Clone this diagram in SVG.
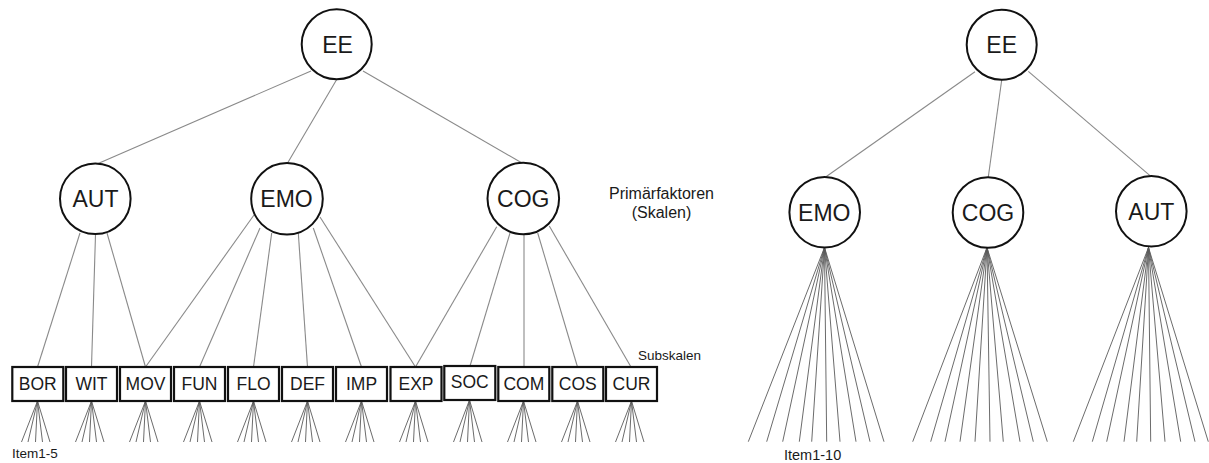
<svg xmlns="http://www.w3.org/2000/svg" width="1209" height="463" viewBox="0 0 1209 463">
<style>
.c{fill:#fff;stroke:#111;stroke-width:2}
.b{fill:#fff;stroke:#111;stroke-width:2.2}
.e{stroke:#8a8a8a;stroke-width:1.1;fill:none}
.f{stroke:#5a5a5a;stroke-width:0.9;fill:none}
.ct{font-family:"Liberation Sans",Arial,sans-serif;font-size:23px;fill:#1a1a1a;text-anchor:middle}
.bt{font-family:"Liberation Sans",Arial,sans-serif;font-size:17.5px;fill:#1a1a1a;text-anchor:middle}
.lt{font-family:"Liberation Sans",Arial,sans-serif;fill:#1a1a1a}
</style>
<rect width="1209" height="463" fill="#fff"/>
<g id="connectors">
<line class="e" x1="311" y1="71" x2="97" y2="164"/>
<line class="e" x1="337" y1="79" x2="287" y2="164"/>
<line class="e" x1="363" y1="71" x2="522" y2="163"/>
<line class="e" x1="80" y1="233" x2="37.5" y2="367"/>
<line class="e" x1="95.5" y1="234.5" x2="91.5" y2="367"/>
<line class="e" x1="107" y1="233" x2="145.5" y2="367"/>
<line class="e" x1="254" y1="215" x2="145.5" y2="367"/>
<line class="e" x1="260" y1="228" x2="199.5" y2="367"/>
<line class="e" x1="271.7" y1="233" x2="253.5" y2="367"/>
<line class="e" x1="298.3" y1="233" x2="307.5" y2="367"/>
<line class="e" x1="313.3" y1="228" x2="361.5" y2="367"/>
<line class="e" x1="320" y1="217" x2="415.5" y2="367"/>
<line class="e" x1="496.7" y1="226.7" x2="415.5" y2="367"/>
<line class="e" x1="510" y1="233" x2="470" y2="366"/>
<line class="e" x1="524" y1="234.5" x2="524" y2="367"/>
<line class="e" x1="537.7" y1="233" x2="577.5" y2="367"/>
<line class="e" x1="549.3" y1="226" x2="631" y2="367"/>
<g class="f">
<path d="M37.5 401L21.5 442M37.5 401L28 442M37.5 401L35.5 442M37.5 401L42.5 442M37.5 401L50 442"/>
<path d="M91.5 401L75.5 442M91.5 401L82 442M91.5 401L89.5 442M91.5 401L96.5 442M91.5 401L104 442"/>
<path d="M145.5 401L129.5 442M145.5 401L136 442M145.5 401L143.5 442M145.5 401L150.5 442M145.5 401L158 442"/>
<path d="M199.5 401L183.5 442M199.5 401L190 442M199.5 401L197.5 442M199.5 401L204.5 442M199.5 401L212 442"/>
<path d="M253.5 401L237.5 442M253.5 401L244 442M253.5 401L251.5 442M253.5 401L258.5 442M253.5 401L266 442"/>
<path d="M307.5 401L291.5 442M307.5 401L298 442M307.5 401L305.5 442M307.5 401L312.5 442M307.5 401L320 442"/>
<path d="M361.5 401L345.5 442M361.5 401L352 442M361.5 401L359.5 442M361.5 401L366.5 442M361.5 401L374 442"/>
<path d="M415.5 401L399.5 442M415.5 401L406 442M415.5 401L413.5 442M415.5 401L420.5 442M415.5 401L428 442"/>
<path d="M469.5 400L453.5 442M469.5 400L460 442M469.5 400L467.5 442M469.5 400L474.5 442M469.5 400L482 442"/>
<path d="M523.5 401L507.5 442M523.5 401L514 442M523.5 401L521.5 442M523.5 401L528.5 442M523.5 401L536 442"/>
<path d="M577.5 401L561.5 442M577.5 401L568 442M577.5 401L575.5 442M577.5 401L582.5 442M577.5 401L590 442"/>
<path d="M631.5 401L615.5 442M631.5 401L622 442M631.5 401L629.5 442M631.5 401L636.5 442M631.5 401L644 442"/>
</g>
<line class="e" x1="975" y1="71.7" x2="826" y2="176.7"/>
<line class="e" x1="1001.7" y1="80" x2="988.3" y2="177"/>
<line class="e" x1="1028.3" y1="71.3" x2="1150" y2="175.7"/>
<g class="f">
<path d="M824.5 247.5L748.3 441.7M824.5 247.5L766.7 441.7M824.5 247.5L782.7 441.7M824.5 247.5L799.3 441.7M824.5 247.5L811.7 441.7M824.5 247.5L826.7 441.7M824.5 247.5L840 441.7M824.5 247.5L856 441.7M824.5 247.5L870 441.7M824.5 247.5L884 441.7"/>
<path d="M987 247.5L912.7 441.7M987 247.5L930.7 441.7M987 247.5L945 441.7M987 247.5L960 441.7M987 247.5L975 441.7M987 247.5L990 441.7M987 247.5L1003.3 441.7M987 247.5L1020 441.7M987 247.5L1033.3 441.7M987 247.5L1047.3 441.7"/>
<path d="M1148.5 247.5L1073.3 441.7M1148.5 247.5L1092.3 441.7M1148.5 247.5L1106.7 441.7M1148.5 247.5L1124 441.7M1148.5 247.5L1136.7 441.7M1148.5 247.5L1150.7 441.7M1148.5 247.5L1165 441.7M1148.5 247.5L1180.7 441.7M1148.5 247.5L1195 441.7M1148.5 247.5L1208.3 441.7"/>
</g>
</g>
<g id="L_EE"><circle class="c" cx="336.7" cy="44.3" r="35"/><text class="ct" x="337.5" y="52.8">EE</text></g>
<g id="L_AUT"><circle class="c" cx="95.3" cy="198.8" r="35.3"/><text class="ct" x="95.5" y="207">AUT</text></g>
<g id="L_EMO"><circle class="c" cx="287" cy="198.8" r="35.8"/><text class="ct" x="286.5" y="207">EMO</text></g>
<g id="L_COG"><circle class="c" cx="523.3" cy="198.5" r="35.8"/><text class="ct" x="523.3" y="207">COG</text></g>
<g id="L_BOR"><rect class="b" x="12.3" y="367" width="51" height="34"/><text class="bt" x="37.8" y="389.8">BOR</text></g>
<g id="L_WIT"><rect class="b" x="66" y="367" width="51" height="34"/><text class="bt" x="91.5" y="389.8">WIT</text></g>
<g id="L_MOV"><rect class="b" x="120" y="367" width="51" height="34"/><text class="bt" x="145.5" y="389.8">MOV</text></g>
<g id="L_FUN"><rect class="b" x="174" y="367" width="51" height="34"/><text class="bt" x="199.5" y="389.8">FUN</text></g>
<g id="L_FLO"><rect class="b" x="228" y="367" width="51" height="34"/><text class="bt" x="253.5" y="389.8">FLO</text></g>
<g id="L_DEF"><rect class="b" x="282" y="367" width="51" height="34"/><text class="bt" x="307.5" y="389.8">DEF</text></g>
<g id="L_IMP"><rect class="b" x="336" y="367" width="51" height="34"/><text class="bt" x="361.5" y="389.8">IMP</text></g>
<g id="L_EXP"><rect class="b" x="390.5" y="367" width="51" height="34"/><text class="bt" x="416" y="389.8">EXP</text></g>
<g id="L_SOC"><rect class="b" x="444.3" y="366" width="51" height="34"/><text class="bt" x="469.8" y="388.3">SOC</text></g>
<g id="L_COM"><rect class="b" x="498.3" y="367" width="51" height="34"/><text class="bt" x="523.8" y="389.8">COM</text></g>
<g id="L_COS"><rect class="b" x="552.3" y="367" width="51" height="34"/><text class="bt" x="577.8" y="389.8">COS</text></g>
<g id="L_CUR"><rect class="b" x="606" y="367" width="51" height="34"/><text class="bt" x="631.5" y="389.8">CUR</text></g>
<g id="R_EE"><circle class="c" cx="1001.7" cy="44.7" r="35"/><text class="ct" x="1001.7" y="53.3">EE</text></g>
<g id="R_EMO"><circle class="c" cx="824.7" cy="212.2" r="35.3"/><text class="ct" x="824.3" y="221">EMO</text></g>
<g id="R_COG"><circle class="c" cx="988" cy="212.5" r="35.3"/><text class="ct" x="988" y="221">COG</text></g>
<g id="R_AUT"><circle class="c" cx="1151.3" cy="211.2" r="35.3"/><text class="ct" x="1151.3" y="220">AUT</text></g>
<g id="labels">
<text class="lt" x="661.5" y="199" font-size="16" text-anchor="middle">Primärfaktoren</text>
<text class="lt" x="661.5" y="217.5" font-size="16" text-anchor="middle">(Skalen)</text>
<text class="lt" x="638" y="359.5" font-size="13.5">Subskalen</text>
<text class="lt" x="12" y="458.3" font-size="13.5">Item1-5</text>
<text class="lt" x="784" y="460" font-size="14.5">Item1-10</text>
</g>
</svg>
